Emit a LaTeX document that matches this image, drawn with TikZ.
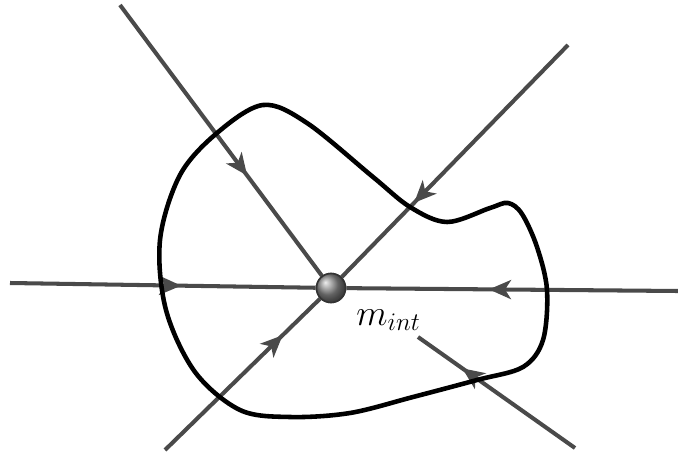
\documentclass[tikz,border=0pt]{standalone}
\usetikzlibrary{arrows.meta,decorations.markings,shapes.geometric}
\definecolor{raycol}{HTML}{4A4A4A}
\begin{document}
\begin{tikzpicture}[x=0.02cm,y=-0.02cm,
  ray/.style={draw=raycol,line width=2.3pt,line cap=butt},
  midarrow/.style={postaction={decorate},decoration={markings,
     mark=at position #1 with {\arrow{Stealth[length=4.4mm,width=3.8mm,inset=1.2mm]}}}},
  loopcurve/.style={draw=black,line width=2.6pt},
  ball/.style={circle,minimum size=0.58cm,inner sep=0pt,draw=black!80,line width=0.9pt,ball color=gray!90},
  lbl/.style={inner sep=0pt,anchor=base west,font=\fontsize{20}{24}\selectfont}]
\useasboundingbox (0,0) rectangle (678,459);
% named points
\node[ball] (m) at (331,288) {};
\coordinate (a1) at (120,5);
\coordinate (a2) at (568,45);
\coordinate (a3) at (10,283);
\coordinate (a4) at (678,291);
\coordinate (a5) at (165,450);
\coordinate (a6s) at (575,448);
\coordinate (a6e) at (418,337);
% rays
\draw[ray,midarrow=0.63] (a1) -- (m);
\draw[ray,midarrow=0.68] (a2) -- (m);
\draw[ray,midarrow=0.56] (a3) -- (m);
\draw[ray,midarrow=0.57] (a4) -- (m);
\draw[ray,midarrow=0.76] (a5) -- (m);
\draw[ray,midarrow=0.72] (a6s) -- (a6e);
% closed curve
\draw[loopcurve] plot[smooth cycle,tension=0.55] coordinates {
 (263,105) (307,123) (373,177) (410,207) (447,222) (490,208) (508,203)
 (522,214) (537,247) (547,290) (543,340) (523,367) (477,380) (413,397)
 (350,413) (290,417) (240,410) (195,372) (166,310) (160,240) (180,175) (217,133)};
% ball on top
\node[ball] at (m) {};
\node[lbl] (lab) at (356,325) {$m_{int}$};
\end{tikzpicture}
\end{document}
